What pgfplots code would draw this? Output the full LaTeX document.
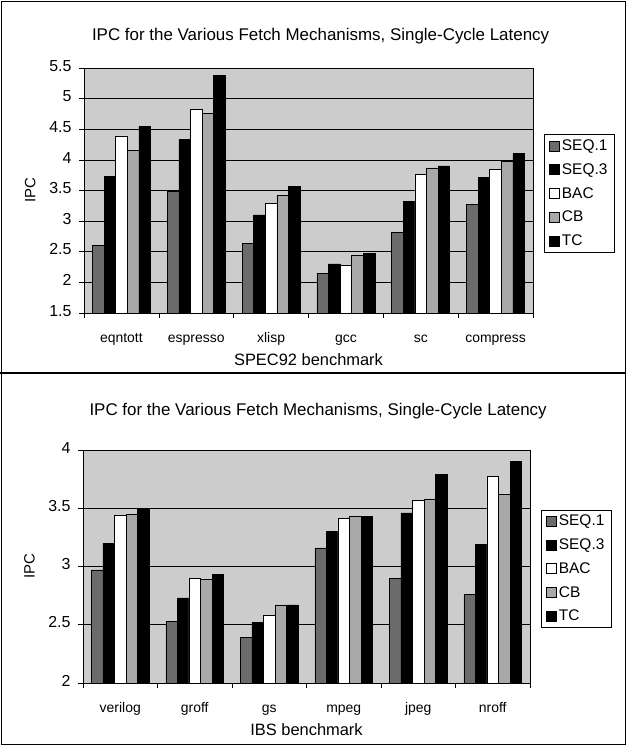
\documentclass[border=0pt]{standalone}
\usepackage{fontspec}
\setmainfont{Liberation Sans}
\usepackage{pgfplots}
\usepackage{pgfplotstable}
\pgfplotsset{compat=1.18}

\pgfplotstableread{
name     s1   s3   bac  cb   tc
eqntott  2.61 3.73 4.39 4.15 4.55
espresso 3.49 4.33 4.82 4.76 5.38
xlisp    2.63 3.10 3.29 3.42 3.57
gcc      2.15 2.30 2.28 2.44 2.47
sc       2.81 3.32 3.76 3.87 3.90
compress 3.27 3.71 3.84 3.98 4.10
}\specdata

\pgfplotstableread{
name    s1   s3   bac  cb   tc
verilog 2.97 3.20 3.44 3.45 3.49
groff   2.53 2.73 2.90 2.89 2.93
gs      2.39 2.52 2.58 2.67 2.67
mpeg    3.16 3.30 3.41 3.43 3.43
jpeg    2.90 3.46 3.57 3.58 3.79
nroff   2.76 3.19 3.77 3.62 3.90
}\ibsdata

\definecolor{bgc}{gray}{0.80}
\definecolor{seqone}{gray}{0.42}
\definecolor{cbc}{gray}{0.66}

\pgfplotsset{
  ipc/.style={
    scale only axis, anchor=south west,
    ybar=0pt, bar width=0.155,
    xmin=-0.5, xmax=5.5,
    xtick={0,...,5},
    major x tick style={draw=none},
    minor xtick={-0.5,0.5,1.5,2.5,3.5,4.5,5.5},
    minor tick length=5bp,
    major tick length=5bp,
    tick align=outside,
    xtick pos=lower, ytick pos=left,
    ymajorgrids,
    grid style={black, line width=0.5bp},
    axis line style={black, line width=0.6bp},
    axis background/.style={fill=bgc},
    tick style={black, line width=0.6bp},
    /pgf/number format/assume math mode=true,
    typeset ticklabels with strut,
    xticklabel style={font=\fontsize{14}{14}\selectfont, yshift=-11bp},
    yticklabel style={font=\fontsize{16}{16}\selectfont, xshift=-4bp},
    xlabel style={font=\fontsize{16.5}{16.5}\selectfont},
    ylabel style={font=\fontsize{15}{15}\selectfont},
    title style={font=\fontsize{17}{17}\selectfont},
    title={IPC for the Various Fetch Mechanisms, Single-Cycle Latency},
    ylabel={IPC},
    legend style={anchor=west, draw=black, fill=white, line width=0.6bp,
      font=\fontsize{15.5}{15.5}\selectfont, row sep=7.5bp,
      inner xsep=5bp, inner ysep=3bp},
    legend cell align=left,
    legend image code/.code={\draw[#1, line width=0.6bp] (0bp,-5bp) rectangle (10bp,5bp);},
  },
  every axis plot/.append style={draw=black, line width=0.6bp},
}

\begin{document}
\begin{tikzpicture}[x=1bp,y=1bp]
\useasboundingbox (0,0) rectangle (626,745);
\draw[line width=0.8bp] (1,1) rectangle (625,744);
\draw[line width=2.5bp] (0,372) -- (626,372);

\begin{axis}[ipc, at={(84bp,432bp)}, width=449bp, height=245bp,
  ymin=1.5, ymax=5.5, ytick={1.5,2,2.5,3,3.5,4,4.5,5,5.5},
  xticklabels={eqntott,espresso,xlisp,gcc,sc,compress},
  xlabel={SPEC92 benchmark},
  title style={at={(axis description cs:0.527,1.106)}, anchor=center},
  xlabel style={at={(axis description cs:0.5,-0.192)}, anchor=center},
  ylabel style={at={(axis description cs:-0.120,0.5)}, anchor=center},
  legend style={at={(axis description cs:1.0245,0.488)}}]
\addplot[fill=seqone] table[x expr=\coordindex, y=s1]{\specdata};
\addplot[fill=black] table[x expr=\coordindex, y=s3]{\specdata};
\addplot[fill=white] table[x expr=\coordindex, y=bac]{\specdata};
\addplot[fill=cbc] table[x expr=\coordindex, y=cb]{\specdata};
\addplot[fill=black] table[x expr=\coordindex, y=tc]{\specdata};
\legend{SEQ.1,SEQ.3,BAC,CB,TC}
\end{axis}

\begin{axis}[ipc, at={(83bp,62bp)}, width=447bp, height=233bp,
  ymin=2, ymax=4, ytick={2,2.5,3,3.5,4},
  xticklabels={verilog,groff,gs,mpeg,jpeg,nroff},
  xlabel={IBS benchmark},
  title style={at={(axis description cs:0.526,1.142)}, anchor=center},
  xlabel style={at={(axis description cs:0.5,-0.202)}, anchor=center},
  ylabel style={at={(axis description cs:-0.120,0.5)}, anchor=center},
  legend style={at={(axis description cs:1.0246,0.491)}}]
\addplot[fill=seqone] table[x expr=\coordindex, y=s1]{\ibsdata};
\addplot[fill=black] table[x expr=\coordindex, y=s3]{\ibsdata};
\addplot[fill=white] table[x expr=\coordindex, y=bac]{\ibsdata};
\addplot[fill=cbc] table[x expr=\coordindex, y=cb]{\ibsdata};
\addplot[fill=black] table[x expr=\coordindex, y=tc]{\ibsdata};
\legend{SEQ.1,SEQ.3,BAC,CB,TC}
\end{axis}
\end{tikzpicture}
\end{document}
